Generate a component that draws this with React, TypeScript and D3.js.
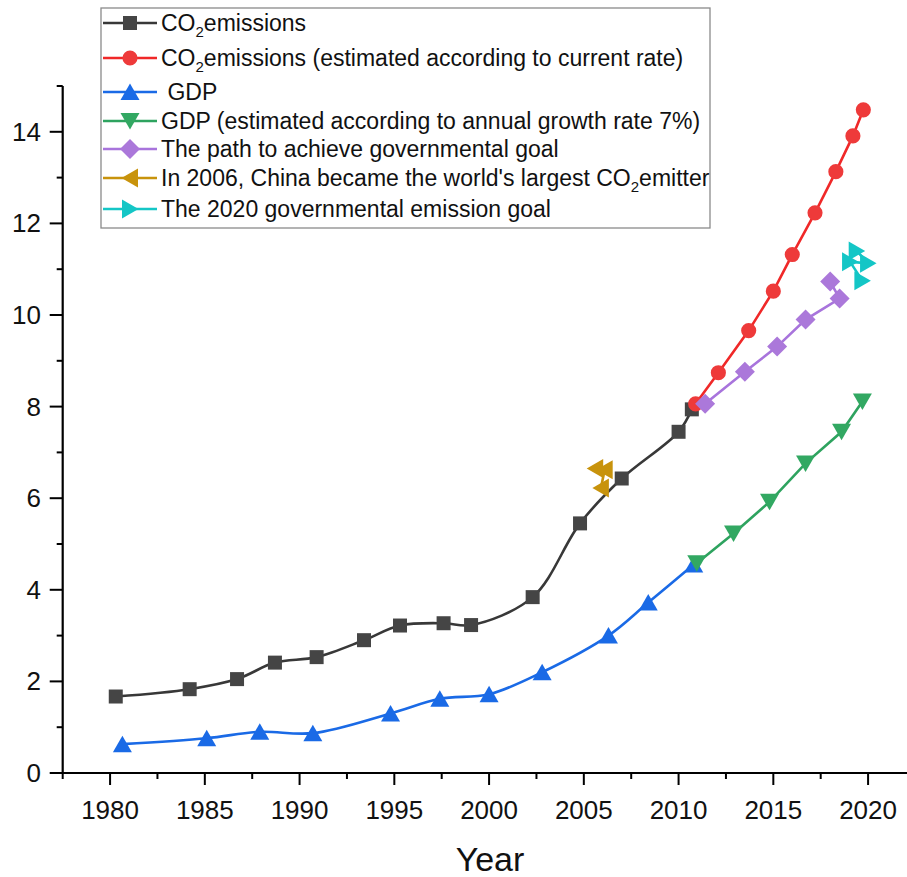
import React from "react";
import * as d3 from "d3";

// ---- data ----
const co2Years = [1980.3, 1984.2, 1986.7, 1988.7, 1990.9, 1993.4, 1995.3, 1997.6, 1999.05, 2002.3, 2004.8, 2007.0, 2010.0, 2010.7];
const co2Values = [1.67, 1.83, 2.05, 2.41, 2.53, 2.9, 3.22, 3.27, 3.23, 3.84, 5.45, 6.43, 7.45, 7.94];

const co2EstYears = [2010.9, 2012.1, 2013.7, 2015.0, 2016.0, 2017.2, 2018.3, 2019.2, 2019.75];
const co2EstValues = [8.06, 8.74, 9.66, 10.52, 11.32, 12.23, 13.13, 13.91, 14.48];

const gdpYears = [1980.65, 1985.1, 1987.9, 1990.7, 1994.8, 1997.4, 2000.0, 2002.8, 2006.3, 2008.4, 2010.8];
const gdpValues = [0.63, 0.76, 0.9, 0.87, 1.3, 1.62, 1.72, 2.2, 3.0, 3.72, 4.55];

const gdpEstYears = [2010.96, 2012.9, 2014.8, 2016.7, 2018.6, 2019.7];
const gdpEstValues = [4.58, 5.23, 5.92, 6.76, 7.45, 8.11];

const pathYears = [2011.4, 2013.5, 2015.2, 2016.7, 2018.5, 2018.0];
const pathValues = [8.06, 8.76, 9.31, 9.9, 10.36, 10.73];

const emitterYears = [2005.6, 2006.1, 2005.9];
const emitterValues = [6.65, 6.62, 6.22];

const goalYears = [2019.4, 2020.0, 2019.05, 2019.7];
const goalValues = [11.4, 11.13, 11.16, 10.75];

const xMajorTicks = [1980, 1985, 1990, 1995, 2000, 2005, 2010, 2015, 2020];
const yMajorTicks = [0, 2, 4, 6, 8, 10, 12, 14];

type Marker = "square" | "circle" | "up" | "down" | "diamond" | "left" | "right";
interface Series {
  name: string[]; // [before sub, sub, after sub]
  years: number[];
  values: number[];
  color: string;
  markerColor: string;
  marker: Marker;
  smooth: boolean;
}

const series: Series[] = [
  { name: ["CO", "2", "emissions"], years: co2Years, values: co2Values, color: "#383838", markerColor: "#454545", marker: "square", smooth: true },
  { name: ["CO", "2", "emissions (estimated according to current rate)"], years: co2EstYears, values: co2EstValues, color: "#f02828", markerColor: "#ee3a3a", marker: "circle", smooth: false },
  { name: [" GDP"], years: gdpYears, values: gdpValues, color: "#1a6ae6", markerColor: "#1a6ae6", marker: "up", smooth: true },
  { name: ["GDP (estimated according to annual growth rate 7%)"], years: gdpEstYears, values: gdpEstValues, color: "#2ea35f", markerColor: "#32a862", marker: "down", smooth: false },
  { name: ["The path to achieve governmental goal"], years: pathYears, values: pathValues, color: "#a874dc", markerColor: "#ab78da", marker: "diamond", smooth: false },
  { name: ["In 2006, China became the world's largest CO", "2", "emitter"], years: emitterYears, values: emitterValues, color: "#c8930c", markerColor: "#c8930c", marker: "left", smooth: false },
  { name: ["The 2020 governmental emission goal"], years: goalYears, values: goalValues, color: "#14c6c6", markerColor: "#14c6c6", marker: "right", smooth: false },
];

function markerPath(m: Marker): string {
  switch (m) {
    case "square":
      return "M-7,-7H7V7H-7Z";
    case "circle":
      return d3.symbol(d3.symbolCircle, 180)() as string;
    case "up":
      return "M0,-8.5L9.5,8L-9.5,8Z";
    case "down":
      return "M0,8.5L9.5,-8L-9.5,-8Z";
    case "diamond":
      return "M0,-10L10,0L0,10L-10,0Z";
    case "left":
      return "M-8.5,0L8,-9.5L8,9.5Z";
    case "right":
      return "M8.5,0L-8,-9.5L-8,9.5Z";
  }
}

const W = 907;
const H = 877;
const FONT = "'Liberation Sans', Arial, sans-serif";

export default function App() {
  const x = d3.scaleLinear().domain([1977.5, 2022.5]).range([62.7, 62.7 + 45 * 18.95]);
  const y = d3.scaleLinear().domain([0, 15]).range([773, 773 - 15 * 45.8]);

  const xMinor = d3.range(1977.5, 2023, 5);
  const yMinor = d3.range(1, 16, 2);

  const legendRowY = [23, 58, 92, 121, 149, 178, 209];

  return (
    <div style={{ position: "absolute", left: 0, top: 0 }}>
      <svg width={W} height={H} style={{ display: "block", background: "#fff" }} fontFamily={FONT}>
        {/* axes */}
        <line x1={x(1977.5)} x2={W} y1={y(0)} y2={y(0)} stroke="#000" strokeWidth={2.2} />
        <line x1={x(1977.5)} x2={x(1977.5)} y1={y(0) + 1} y2={y(15)} stroke="#000" strokeWidth={2.2} />
        {xMajorTicks.map((t) => (
          <g key={"xt" + t}>
            <line x1={x(t)} x2={x(t)} y1={y(0)} y2={y(0) + 12} stroke="#000" strokeWidth={2} />
            <text x={x(t)} y={819} textAnchor="middle" fontSize={26} fill="#111">
              {t}
            </text>
          </g>
        ))}
        {xMinor.map((t) => (
          <line key={"xm" + t} x1={x(t)} x2={x(t)} y1={y(0)} y2={y(0) + 6} stroke="#000" strokeWidth={2} />
        ))}
        {yMajorTicks.map((t) => (
          <g key={"yt" + t}>
            <line x1={x(1977.5) - 13} x2={x(1977.5)} y1={y(t)} y2={y(t)} stroke="#000" strokeWidth={2} />
            <text x={41} y={y(t) + 9} textAnchor="end" fontSize={26} fill="#111">
              {t}
            </text>
          </g>
        ))}
        {yMinor.map((t) => (
          <line key={"ym" + t} x1={x(1977.5) - 6} x2={x(1977.5)} y1={y(t)} y2={y(t)} stroke="#000" strokeWidth={2} />
        ))}
        <text x={490} y={871} textAnchor="middle" fontSize={34} fill="#111">
          Year
        </text>

        {/* series */}
        {series.map((s, i) => {
          const pts: [number, number][] = s.years.map((yr, k) => [x(yr), y(s.values[k])]);
          const line = d3
            .line()
            .curve(s.smooth ? d3.curveCatmullRom.alpha(0.5) : d3.curveLinear)(pts) as string;
          return (
            <g key={"s" + i}>
              <path d={line} fill="none" stroke={s.color} strokeWidth={2.6} />
              {pts.map((p, k) => (
                <path key={k} d={markerPath(s.marker)} transform={`translate(${p[0]},${p[1]})`} fill={s.markerColor} />
              ))}
            </g>
          );
        })}

        {/* legend */}
        <rect x={101} y={8} width={609} height={220} fill="#fff" stroke="#8a8a8a" strokeWidth={1.3} />
        {series.map((s, i) => {
          const cy = legendRowY[i];
          return (
            <g key={"lg" + i}>
              <line x1={103} x2={157} y1={cy} y2={cy} stroke={s.color} strokeWidth={2.6} />
              <path d={markerPath(s.marker)} transform={`translate(130,${cy})`} fill={s.markerColor} />
              <text x={161} y={cy + 8} fontSize={23} fill="#111" style={{ whiteSpace: "pre" }} xmlSpace="preserve">
                {s.name.length === 3 ? (
                  <>
                    <tspan>{s.name[0]}</tspan>
                    <tspan dy={6} fontSize={15}>
                      {s.name[1]}
                    </tspan>
                    <tspan dy={-6}>{s.name[2]}</tspan>
                  </>
                ) : (
                  s.name[0]
                )}
              </text>
            </g>
          );
        })}
      </svg>
    </div>
  );
}
